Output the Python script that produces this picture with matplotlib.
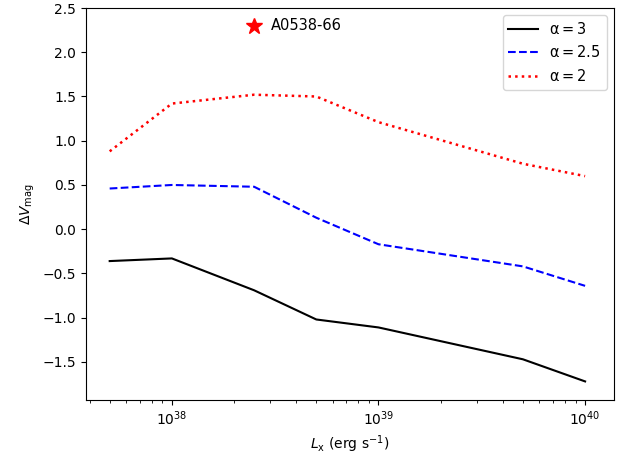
import matplotlib
matplotlib.use("Agg")
import matplotlib.pyplot as plt

lx = [5e37, 1e38, 2.5e38, 5e38, 1e39, 5e39, 1e40]
dv_a3 = [-0.36, -0.33, -0.69, -1.02, -1.11, -1.47, -1.72]
dv_a25 = [0.46, 0.50, 0.48, 0.13, -0.17, -0.42, -0.64]
dv_a2 = [0.88, 1.42, 1.52, 1.50, 1.21, 0.74, 0.60]
star_x = 2.5e38
star_y = 2.3

fig = plt.figure(figsize=(6.28, 4.55), dpi=100)
ax = fig.add_axes([86/628, 55/455, 528/628, 392/455])
ax.plot(lx, dv_a3, 'k-', label=r'$\mathrm{\alpha} = 3$')
ax.plot(lx, dv_a25, 'b--', label=r'$\mathrm{\alpha} = 2.5$')
ax.plot(lx, dv_a2, 'r:', lw=1.8, label=r'$\mathrm{\alpha} = 2$')
ax.plot(star_x, star_y, 'r*', ms=12)
ax.text(3.0e38, star_y, 'A0538-66', va='center', fontsize=10.5)
ax.set_xscale('log')
ax.set_xlim(3.84e37, 1.38e40)
ax.set_ylim(-1.93, 2.5)
ax.set_xlabel(r'$L_{\rm x}$ (erg s$^{-1}$)')
ax.set_ylabel(r'$\Delta V_{\rm mag}$')
ax.legend(loc='upper right', fontsize=10.5)
fig.savefig('out.png', dpi=100)
